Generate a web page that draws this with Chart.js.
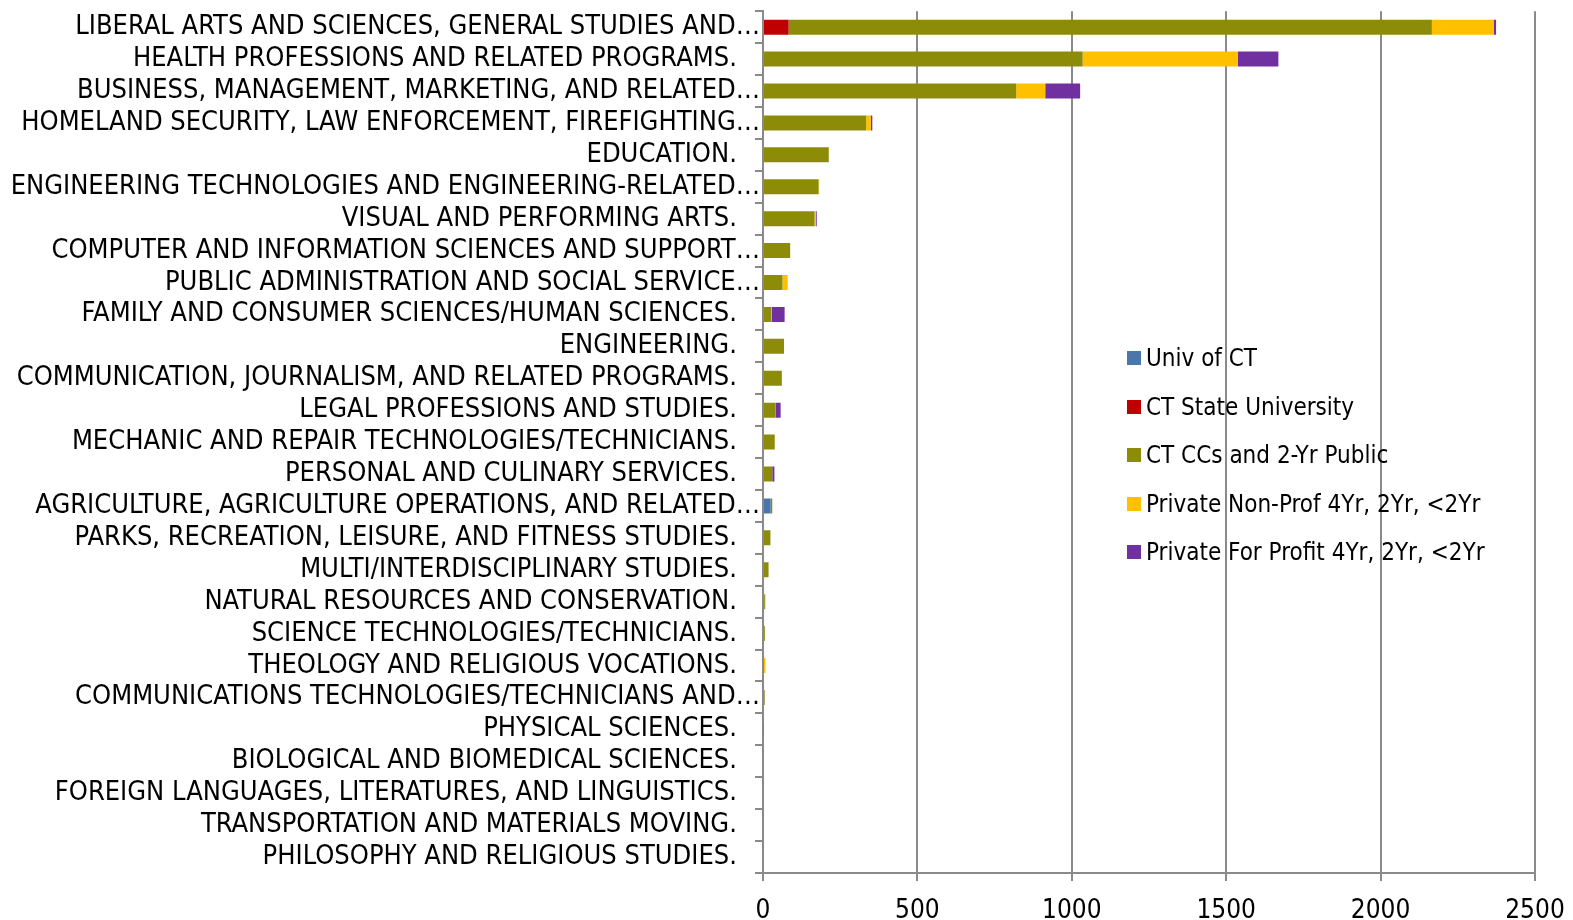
<!DOCTYPE html>
<html lang="en">
<head>
  <meta charset="UTF-8" />
  <title>Completions by Program</title>
  <style>
    * { box-sizing: border-box; }
    body {
      margin: 0;
      background: #fff;
      font-family: 'DejaVu Sans Condensed', 'DejaVu Sans', sans-serif;
    }
    #wrap {
      position: relative;
      width: 1573px;
      height: 920px;
    }
    #legend {
      position: absolute;
      left: 1127px;
      top: 334px;
      list-style: none;
      margin: 0;
      padding: 0;
      font-size: 24px;
      color: #000;
    }
    #legend li {
      height: 48.5px;
      display: flex;
      align-items: center;
      white-space: nowrap;
    }
    #legend span {
      display: inline-block;
      width: 14px;
      height: 14px;
      margin-right: 5px;
    }
  </style>
</head>
<body>
  <div id="wrap">
    <canvas id="chart" width="1573" height="920"></canvas>
    <ul id="legend"></ul>
  </div>

  <script src="https://cdn.jsdelivr.net/npm/chart.js"></script>
  <script>
    // categories as displayed (long ones are cut off with an ellipsis)
    const categories = [
      'LIBERAL ARTS AND SCIENCES, GENERAL STUDIES AND\u2026',
      'HEALTH PROFESSIONS AND RELATED PROGRAMS.   ',
      'BUSINESS, MANAGEMENT, MARKETING, AND RELATED\u2026',
      'HOMELAND SECURITY, LAW ENFORCEMENT, FIREFIGHTING\u2026',
      'EDUCATION.   ',
      'ENGINEERING TECHNOLOGIES AND ENGINEERING-RELATED\u2026',
      'VISUAL AND PERFORMING ARTS.   ',
      'COMPUTER AND INFORMATION SCIENCES AND SUPPORT\u2026',
      'PUBLIC ADMINISTRATION AND SOCIAL SERVICE\u2026',
      'FAMILY AND CONSUMER SCIENCES/HUMAN SCIENCES.   ',
      'ENGINEERING.   ',
      'COMMUNICATION, JOURNALISM, AND RELATED PROGRAMS.   ',
      'LEGAL PROFESSIONS AND STUDIES.   ',
      'MECHANIC AND REPAIR TECHNOLOGIES/TECHNICIANS.   ',
      'PERSONAL AND CULINARY SERVICES.   ',
      'AGRICULTURE, AGRICULTURE OPERATIONS, AND RELATED\u2026',
      'PARKS, RECREATION, LEISURE, AND FITNESS STUDIES.   ',
      'MULTI/INTERDISCIPLINARY STUDIES.   ',
      'NATURAL RESOURCES AND CONSERVATION.   ',
      'SCIENCE TECHNOLOGIES/TECHNICIANS.   ',
      'THEOLOGY AND RELIGIOUS VOCATIONS.   ',
      'COMMUNICATIONS TECHNOLOGIES/TECHNICIANS AND\u2026',
      'PHYSICAL SCIENCES.   ',
      'BIOLOGICAL AND BIOMEDICAL SCIENCES.   ',
      'FOREIGN LANGUAGES, LITERATURES, AND LINGUISTICS.   ',
      'TRANSPORTATION AND MATERIALS MOVING.   ',
      'PHILOSOPHY AND RELIGIOUS STUDIES.   '
    ];

    const seriesNames = [
      'Univ of CT',
      'CT State University',
      'CT CCs and 2-Yr Public',
      'Private Non-Prof 4Yr, 2Yr, <2Yr',
      'Private For Profit 4Yr, 2Yr, <2Yr'
    ];
    const seriesColors = ['#4a77ab', '#c00000', '#8c8c08', '#ffc000', '#7030a0'];

    const univCT      = [0, 0, 0, 0, 0, 0, 0, 0, 0, 0, 0, 0, 0, 0, 0, 25, 0, 0, 0, 0, 0, 0, 0, 0, 0, 0, 0];
    const ctState     = [83, 0, 0, 0, 0, 0, 0, 0, 0, 0, 0, 0, 0, 0, 0, 0, 0, 0, 0, 0, 0, 0, 0, 0, 0, 0, 0];
    const ctCCs       = [2083, 1035, 820, 334, 213, 180, 167, 88, 63, 27, 68, 61, 39, 38, 30, 5, 24, 18, 6, 6, 0, 5, 1, 0, 0, 0, 0];
    const privNonProf = [200, 503, 94, 15, 0, 2, 4, 0, 17, 2, 0, 0, 1, 0, 0, 0, 0, 0, 2, 0, 8, 0, 0, 0, 0, 0, 0];
    const privProfit  = [8, 131, 113, 5, 0, 0, 3, 0, 0, 41, 0, 0, 17, 0, 7, 0, 0, 0, 0, 0, 0, 1, 0, 0, 0, 0, 0];

    const xTicks = [0, 500, 1000, 1500, 2000, 2500];

    const seriesData = [univCT, ctState, ctCCs, privNonProf, privProfit];
    const gridGray = '#8a8a8a';
    const fontFamily = "'DejaVu Sans Condensed', 'DejaVu Sans', sans-serif";

    const ctx = document.getElementById('chart').getContext('2d');
    new Chart(ctx, {
      type: 'bar',
      data: {
        labels: categories,
        datasets: seriesData.map((d, i) => ({
          label: seriesNames[i],
          data: d,
          backgroundColor: seriesColors[i],
          borderWidth: 0,
          barPercentage: 0.47,
          categoryPercentage: 1.0
        }))
      },
      options: {
        indexAxis: 'y',
        responsive: false,
        animation: false,
        layout: { padding: { top: 4, right: 38, left: 0, bottom: 0 } },
        plugins: {
          legend: { display: false },
          tooltip: { enabled: false }
        },
        scales: {
          x: {
            stacked: true,
            min: 0,
            max: 2500,
            afterBuildTicks: (scale) => { scale.ticks = xTicks.map(v => ({ value: v })); },
            afterFit: (scale) => {
              scale.height = 47;
              scale.paddingRight = 0;
              scale.paddingLeft = 0;
            },
            border: { color: gridGray, width: 2 },
            grid: { color: gridGray, lineWidth: 2, tickLength: 8 },
            ticks: {
              color: '#000',
              padding: 15,
              callback: (v) => String(v),
              font: { family: fontFamily, size: 26 }
            }
          },
          y: {
            stacked: true,
            afterFit: (scale) => { scale.width = 763; },
            border: { color: gridGray, width: 2 },
            grid: { drawOnChartArea: false, color: gridGray, lineWidth: 2, tickLength: 8, offset: true },
            ticks: {
              color: '#000',
              padding: -5,
              autoSkip: false,
              font: { family: fontFamily, size: 27 }
            }
          }
        }
      }
    });

    // legend inside the plot area
    const legend = document.getElementById('legend');
    seriesNames.forEach((name, i) => {
      const li = document.createElement('li');
      const box = document.createElement('span');
      box.style.background = seriesColors[i];
      li.appendChild(box);
      li.appendChild(document.createTextNode(name));
      legend.appendChild(li);
    });
  </script>
</body>
</html>
